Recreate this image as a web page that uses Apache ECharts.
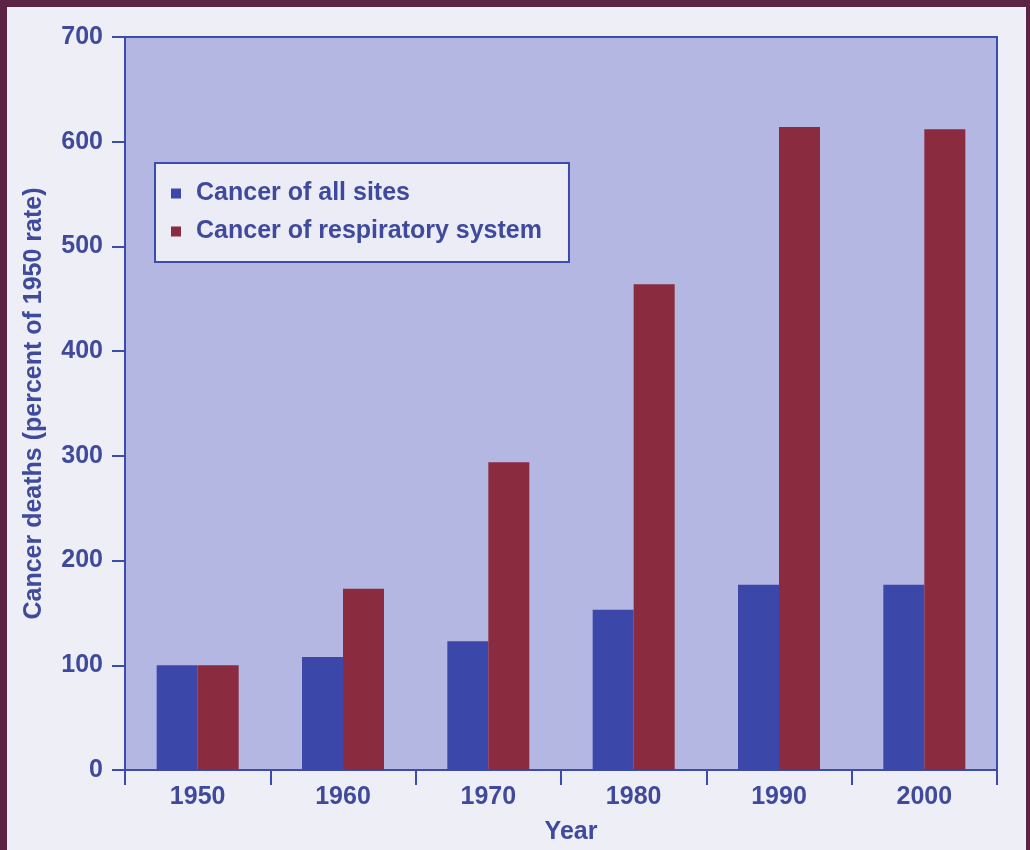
<!DOCTYPE html>
<html><head><meta charset="utf-8">
<script src="https://cdn.jsdelivr.net/npm/echarts@6/dist/echarts.min.js"></script>
<style>html,body{margin:0;padding:0;background:#eeeef6;}#c{width:1030px;height:850px;}</style>
</head><body><div id="c"></div>
<script>
const years = ['1950','1960','1970','1980','1990','2000'];
const allSites = [100, 108, 123, 153, 177, 177];
const respiratory = [100, 173, 294, 464, 614, 612];
const yTicks = [0, 100, 200, 300, 400, 500, 600, 700];

const txt = '#3f4a9c';
const axisC = '#3b4cae';
const chart = echarts.init(document.getElementById('c'));
chart.setOption({
  backgroundColor: '#eeeef6',
  animation: false,
  textStyle: {fontFamily: 'Liberation Sans, Arial, sans-serif'},
  graphic: [
    {type:'rect', shape:{x:0,y:0,width:1030,height:7}, style:{fill:'#5c2444'}, z:100},
    {type:'rect', shape:{x:0,y:0,width:7,height:850}, style:{fill:'#5c2444'}, z:100},
    {type:'rect', shape:{x:1026,y:0,width:4,height:850}, style:{fill:'#5c2444'}, z:100}
  ],
  grid: {left:125, top:37, right:33, bottom:77, show:true, backgroundColor:'#b4b7e1', borderColor:axisC, borderWidth:2},
  legend: {
    orient:'vertical', left:155, top:163,
    backgroundColor:'#ececf6', borderColor:axisC, borderWidth:2,
    padding:[18, 27, 18, 16], itemGap:13, itemWidth:10, itemHeight:10,
    icon:'rect',
    textStyle:{color:txt, fontSize:25, fontWeight:'bold', padding:[0,0,0,10]},
    data:['Cancer of all sites','Cancer of respiratory system']
  },
  xAxis: {
    type:'category', data:years,
    name:'Year', nameLocation:'middle', nameGap:50,
    nameTextStyle:{color:txt, fontSize:25, fontWeight:'bold', padding:[0,0,0,20]},
    axisLine:{lineStyle:{color:axisC, width:2}},
    axisTick:{show:true, length:15, lineStyle:{color:axisC, width:2}, alignWithLabel:false},
    axisLabel:{color:txt, fontSize:25, fontWeight:'bold', margin:15}
  },
  yAxis: {
    type:'value', min:0, max:700, interval:100,
    name:'Cancer deaths (percent of 1950 rate)', nameLocation:'middle', nameGap:78,
    nameTextStyle:{color:txt, fontSize:25, fontWeight:'bold'},
    axisLine:{show:true, lineStyle:{color:axisC, width:2}},
    axisTick:{show:true, length:13, lineStyle:{color:axisC, width:2}},
    axisLabel:{color:txt, fontSize:25, fontWeight:'bold', margin:22,
      formatter: v => yTicks.includes(v) ? String(v) : ''},
    splitLine:{show:false}
  },
  series: [
    {name:'Cancer of all sites', type:'bar', data:allSites, barWidth:41, barGap:'0%', itemStyle:{color:'#3b48a9'}},
    {name:'Cancer of respiratory system', type:'bar', data:respiratory, barWidth:41, barGap:'0%', itemStyle:{color:'#8a2b40'}}
  ]
});
</script></body></html>
